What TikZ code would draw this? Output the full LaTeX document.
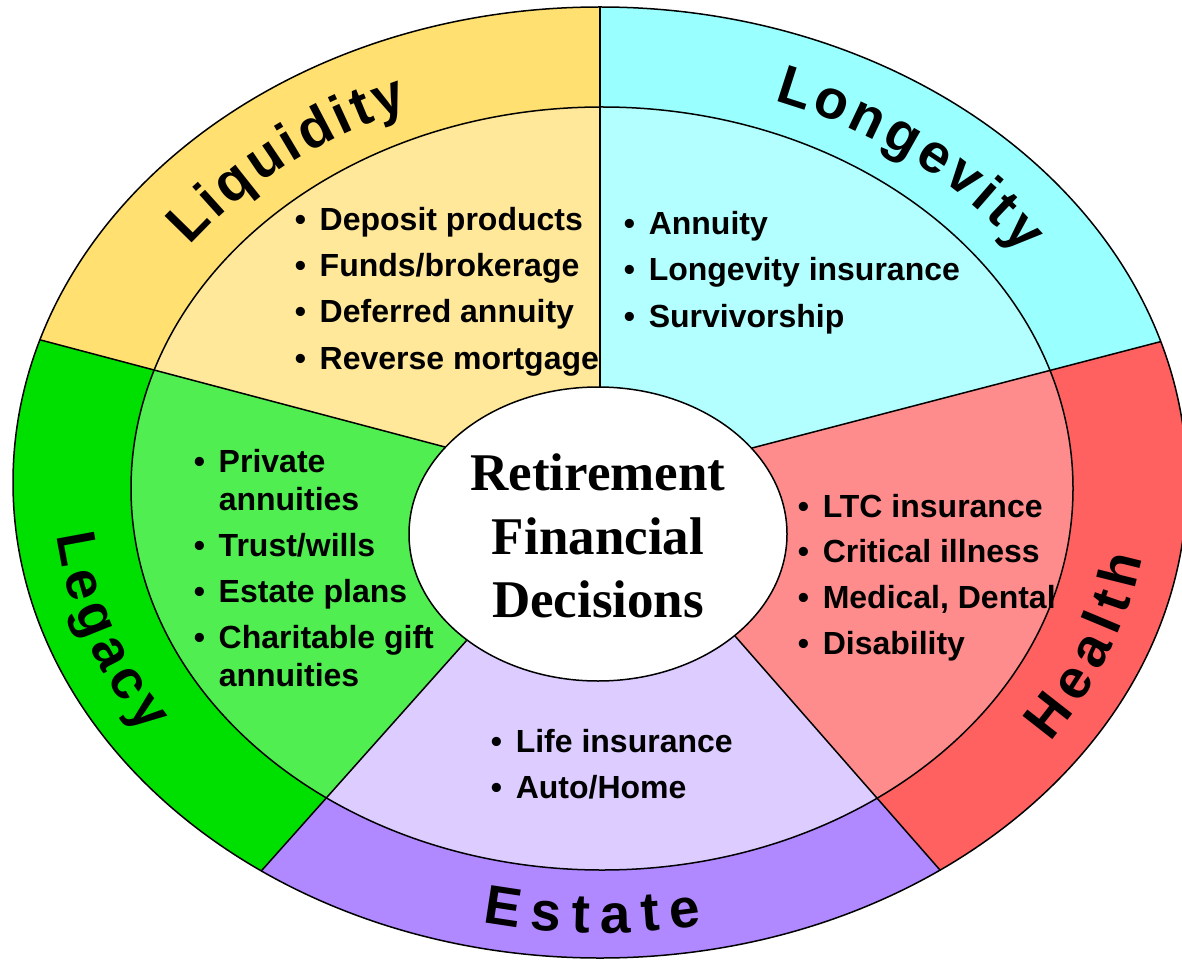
\documentclass[tikz,border=0pt]{standalone}
\usepackage{fontspec}
\setmainfont{Liberation Sans}
\newfontfamily\timesf{Liberation Serif}
\usetikzlibrary{decorations.text}
\definecolor{liqO}{HTML}{FFE070}
\definecolor{liqI}{HTML}{FFE899}
\definecolor{lonO}{HTML}{99FFFF}
\definecolor{lonI}{HTML}{B3FFFF}
\definecolor{heaO}{HTML}{FF6060}
\definecolor{heaI}{HTML}{FF8C8C}
\definecolor{estO}{HTML}{B088FF}
\definecolor{estI}{HTML}{DDCCFF}
\definecolor{legO}{HTML}{00E000}
\definecolor{legI}{HTML}{50EE50}
\newcommand\titlefont{\fontsize{55}{60}\selectfont\bfseries}
\newcommand\itemfont{\fontsize{32}{38}\selectfont\bfseries}
\newcommand\ctrfont{\timesf\fontsize{53}{63}\selectfont\bfseries}
\newcommand\bul{\makebox[25pt][l]{•}}
\begin{document}
\begin{tikzpicture}[x=1pt,y=1pt,line width=1.5pt,
  itm/.style={anchor=base west,inner sep=0pt,font=\itemfont},
  ctr/.style={anchor=base,inner sep=0pt,font=\ctrfont},
  ttl/.style 2 args={decorate,decoration={text effects along path,text={#1},text align=center,
     text effects/.cd,characters={text along path,font=\titlefont},
     character widths={font=\titlefont,inner xsep=#2}}}]
\useasboundingbox (0,-965) rectangle (1182,0);
\fill[white] (0,-965) rectangle (1182,0);
% key points
\coordinate (C) at (598,-534);
\coordinate (A1) at (600,-387);
\coordinate (A2) at (752,-448);
\coordinate (A3) at (735,-636);
\coordinate (A4) at (467,-640);
\coordinate (A5) at (445,-447);
\coordinate (F1) at (600,50);
\coordinate (F2) at (1368.5,-287.5);
\coordinate (F3) at (1053,-999);
\coordinate (F4) at (149,-997);
\coordinate (F5) at (-161.5,-286.5);
\def\outerE{(600,-482.5) ellipse[x radius=587,y radius=475.5]}
\def\innerE{(602,-488.5) ellipse[x radius=471,y radius=381.5]}
% sectors
\begin{scope}
  \clip (C) -- (A1) -- (F1) -- (-250,50) -- (F5) -- (A5) -- cycle;
  \fill[liqO] \outerE; \fill[liqI] \innerE;
\end{scope}
\begin{scope}
  \clip (C) -- (A1) -- (F1) -- (1450,50) -- (F2) -- (A2) -- cycle;
  \fill[lonO] \outerE; \fill[lonI] \innerE;
\end{scope}
\begin{scope}
  \clip (C) -- (A2) -- (F2) -- (1450,-1050) -- (F3) -- (A3) -- cycle;
  \fill[heaO] \outerE; \fill[heaI] \innerE;
\end{scope}
\begin{scope}
  \clip (C) -- (A3) -- (F3) -- (F4) -- (A4) -- cycle;
  \fill[estO] \outerE; \fill[estI] \innerE;
\end{scope}
\begin{scope}
  \clip (C) -- (A4) -- (F4) -- (-250,-1050) -- (F5) -- (A5) -- cycle;
  \fill[legO] \outerE; \fill[legI] \innerE;
\end{scope}
% dividers
\begin{scope}
  \clip \outerE;
  \draw (A1) -- (F1);
  \draw (A2) -- (F2);
  \draw (A3) -- (F3);
  \draw (A4) -- (F4);
  \draw (A5) -- (F5);
\end{scope}
\draw \outerE;
\draw \innerE;
\filldraw[fill=white] (598,-534) ellipse[x radius=189,y radius=147];
% centre text
\node[ctr] (c1) at (598,-490) {Retirement};
\node[ctr] (c2) at (598,-554) {Financial};
\node[ctr] (c3) at (598,-617) {Decisions};
% titles along the ring
\path[shift={(601,-485.5)},ttl={Liquidity}{2pt}] (163:508 and 407.5) arc[start angle=163,end angle=96,x radius=508,y radius=407.5];
\path[shift={(601,-485.5)},ttl={Longevity}{2.2pt}] (85:510 and 409.5) arc[start angle=85,end angle=17,x radius=510,y radius=409.5];
\path[shift={(601,-485.5)},ttl={Health}{4pt}] (-55:548 and 447.5) arc[start angle=-55,end angle=13,x radius=548,y radius=447.5];
\path[shift={(601,-485.5)},ttl={Estate}{5.5pt}] (235:548 and 447.5) arc[start angle=235,end angle=303,x radius=548,y radius=447.5];
\path[shift={(601,-485.5)},ttl={Legacy}{3pt}] (165:548 and 447.5) arc[start angle=165,end angle=233,x radius=548,y radius=447.5];
% Liquidity items
\node[itm] (q1) at (294,-231) {\bul Deposit products};
\node[itm] (q2) at (294,-277) {\bul Funds/brokerage};
\node[itm] (q3) at (294,-323) {\bul Deferred annuity};
\node[itm] (q4) at (294,-369) {\bul Reverse mortgage};
% Longevity items
\node[itm] (l1) at (623,-235) {\bul Annuity};
\node[itm] (l2) at (623,-281) {\bul Longevity insurance};
\node[itm] (l3) at (623,-327) {\bul Survivorship};
% Legacy items
\node[itm] (g1) at (193,-472) {\bul Private};
\node[itm] (g2) at (218,-510) {annuities};
\node[itm] (g3) at (193,-556) {\bul Trust/wills};
\node[itm] (g4) at (193,-602) {\bul Estate plans};
\node[itm] (g5) at (193,-648) {\bul Charitable gift};
\node[itm] (g6) at (218,-686) {annuities};
% Health items
\node[itm] (h1) at (797,-517) {\bul LTC insurance};
\node[itm] (h2) at (797,-562) {\bul Critical illness};
\node[itm] (h3) at (797,-608) {\bul Medical, Dental};
\node[itm] (h4) at (797,-654) {\bul Disability};
% Estate items
\node[itm] (e1) at (490,-752) {\bul Life insurance};
\node[itm] (e2) at (490,-798) {\bul Auto/Home};
\end{tikzpicture}
\end{document}
